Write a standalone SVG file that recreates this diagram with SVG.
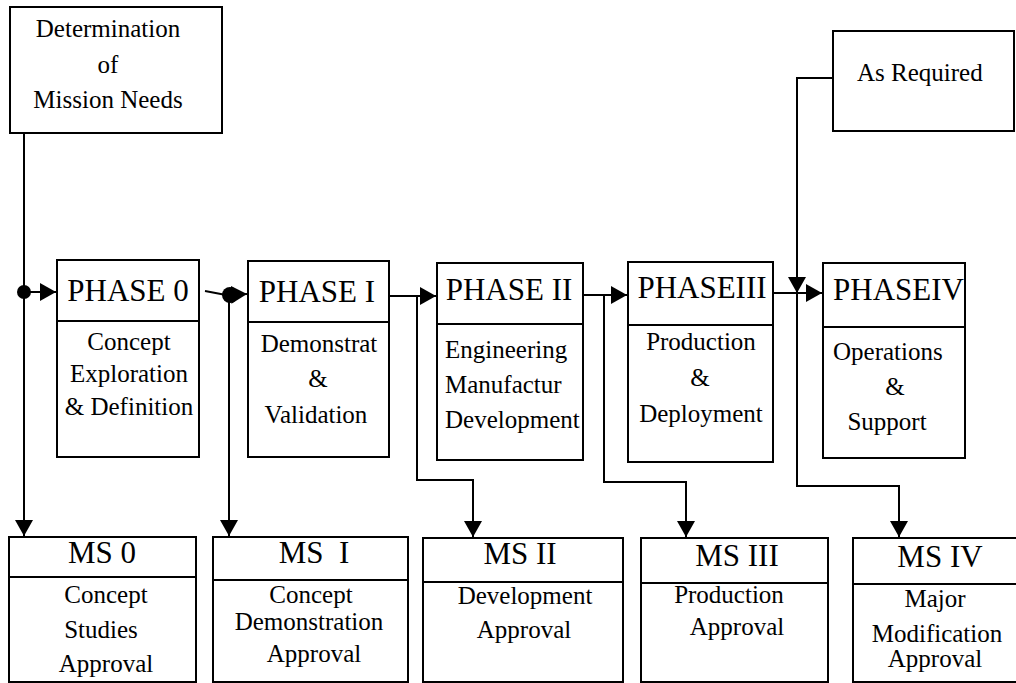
<svg xmlns="http://www.w3.org/2000/svg" width="1016" height="683" viewBox="0 0 1016 683">
<style>
.box{fill:#fff;stroke:#000;stroke-width:2}
.div{stroke:#000;stroke-width:2}
.ln{fill:none;stroke:#000;stroke-width:2}
.t{font-family:"Liberation Serif","Times New Roman",serif;fill:#000}
.ttl{font-size:31px}
.body{font-size:25px}
.m{text-anchor:middle}
</style>
<defs>
<marker id="ah" markerUnits="userSpaceOnUse" markerWidth="17" markerHeight="18" refX="16" refY="9" orient="auto" viewBox="0 0 17 18">
<path d="M0,0 L16,9 L0,18 z" fill="#000"/>
</marker>
</defs>
<rect width="1016" height="683" fill="#fff"/>

<g id="connectors">
<path class="ln" d="M24,133 V536" marker-end="url(#ah)"/>
<path class="ln" d="M24,292 H56" marker-end="url(#ah)"/>
<circle cx="24" cy="292" r="7" fill="#000"/>
<path class="ln" d="M205,291 L226,295 L247,294" marker-end="url(#ah)"/>
<circle cx="230" cy="295" r="8" fill="#000"/>
<path class="ln" d="M229,295 V536" marker-end="url(#ah)"/>
<path class="ln" d="M389,296 H436" marker-end="url(#ah)"/>
<path class="ln" d="M417,296 V480 H473 V537" marker-end="url(#ah)"/>
<path class="ln" d="M583,295 H627" marker-end="url(#ah)"/>
<path class="ln" d="M604,295 V482 H686 V537" marker-end="url(#ah)"/>
<path class="ln" d="M773,293 H822" marker-end="url(#ah)"/>
<path class="ln" d="M833,78 H797 V293" marker-end="url(#ah)"/>
<path class="ln" d="M797,293 V486 H899 V537" marker-end="url(#ah)"/>
</g>

<g id="mission-needs">
<rect class="box" x="10" y="7" width="212" height="126"/>
<text class="t body m" x="108" y="37">Determination</text>
<text class="t body m" x="108" y="73">of</text>
<text class="t body m" x="108" y="108">Mission Needs</text>
</g>

<g id="as-required">
<rect class="box" x="833" y="31" width="181" height="100"/>
<text class="t body" x="857" y="81">As Required</text>
</g>

<g id="phase0">
<rect class="box" x="57" y="260" width="142" height="197"/>
<line class="div" x1="57" y1="321" x2="199" y2="321"/>
<text class="t ttl m" x="128" y="301">PHASE 0</text>
<text class="t body m" x="129" y="350">Concept</text>
<text class="t body m" x="129" y="382">Exploration</text>
<text class="t body m" x="129" y="415">&amp; Definition</text>
</g>

<g id="phase1">
<rect class="box" x="248" y="261" width="141" height="196"/>
<line class="div" x1="248" y1="322" x2="389" y2="322"/>
<text class="t ttl m" x="317" y="302">PHASE I</text>
<text class="t body m" x="319" y="352">Demonstrat</text>
<text class="t body m" x="318" y="387">&amp;</text>
<text class="t body m" x="316" y="423">Validation</text>
</g>

<g id="phase2">
<rect class="box" x="437" y="263" width="146" height="197"/>
<line class="div" x1="437" y1="324" x2="583" y2="324"/>
<text class="t ttl m" x="509" y="300">PHASE II</text>
<text class="t body" x="445" y="358">Engineering</text>
<text class="t body" x="445" y="393">Manufactur</text>
<text class="t body" x="445" y="428">Development</text>
</g>

<g id="phase3">
<rect class="box" x="628" y="262" width="145" height="200"/>
<line class="div" x1="628" y1="325" x2="773" y2="325"/>
<text class="t ttl m" x="702" y="298">PHASEIII</text>
<text class="t body m" x="701" y="350">Production</text>
<text class="t body m" x="700" y="386">&amp;</text>
<text class="t body m" x="701" y="422">Deployment</text>
</g>

<g id="phase4">
<rect class="box" x="823" y="263" width="142" height="195"/>
<line class="div" x1="823" y1="327" x2="965" y2="327"/>
<text class="t ttl" x="833" y="300">PHASEIV</text>
<text class="t body" x="833" y="360">Operations</text>
<text class="t body m" x="895" y="395">&amp;</text>
<text class="t body m" x="887" y="430">Support</text>
</g>

<g id="ms0">
<rect class="box" x="9" y="537" width="187" height="145"/>
<line class="div" x1="9" y1="577" x2="196" y2="577"/>
<text class="t ttl m" x="102" y="563">MS 0</text>
<text class="t body m" x="106" y="603">Concept</text>
<text class="t body m" x="101" y="638">Studies</text>
<text class="t body m" x="106" y="672">Approval</text>
</g>

<g id="ms1">
<rect class="box" x="213" y="537" width="195" height="145"/>
<line class="div" x1="213" y1="580" x2="408" y2="580"/>
<text class="t ttl m" x="314" y="563" xml:space="preserve">MS  I</text>
<text class="t body m" x="311" y="603">Concept</text>
<text class="t body m" x="309" y="630">Demonstration</text>
<text class="t body m" x="314" y="662">Approval</text>
</g>

<g id="ms2">
<rect class="box" x="423" y="538" width="200" height="144"/>
<line class="div" x1="423" y1="582" x2="623" y2="582"/>
<text class="t ttl m" x="520" y="564">MS II</text>
<text class="t body m" x="525" y="604">Development</text>
<text class="t body m" x="524" y="638">Approval</text>
</g>

<g id="ms3">
<rect class="box" x="641" y="538" width="187" height="144"/>
<line class="div" x1="641" y1="583" x2="828" y2="583"/>
<text class="t ttl m" x="737" y="566">MS III</text>
<text class="t body m" x="729" y="603">Production</text>
<text class="t body m" x="737" y="635">Approval</text>
</g>

<g id="ms4">
<rect class="box" x="853" y="538" width="170" height="144"/>
<line class="div" x1="853" y1="584" x2="1016" y2="584"/>
<text class="t ttl m" x="940" y="567">MS IV</text>
<text class="t body m" x="935" y="607">Major</text>
<text class="t body m" x="937" y="642">Modification</text>
<text class="t body m" x="935" y="667">Approval</text>
</g>
</svg>
